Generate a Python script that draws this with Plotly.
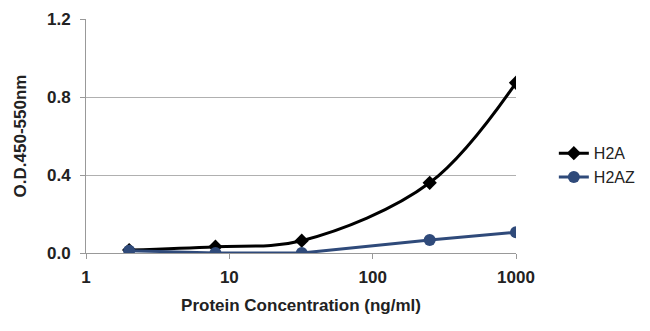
import plotly.graph_objects as go

conc = [2, 8, 32, 250, 1000]
h2a = [0.015, 0.032, 0.063, 0.36, 0.873]
h2az = [0.012, 0.0, 0.0, 0.067, 0.106]

fig = go.Figure()
fig.add_trace(go.Scatter(
    x=conc, y=h2a, name="H2A", mode="lines+markers",
    line=dict(color="black", width=3, shape="spline", smoothing=1.0),
    marker=dict(symbol="diamond", size=11, color="black"),
))
fig.add_trace(go.Scatter(
    x=conc, y=h2az, name="H2AZ", mode="lines+markers",
    line=dict(color="#2F4A7A", width=3),
    marker=dict(symbol="circle", size=12, color="#2F4A7A"),
))

font_family = "Liberation Sans, Arial, sans-serif"
fig.update_layout(
    width=650, height=331,
    margin=dict(l=86, r=134, t=19, b=78, autoexpand=False),
    paper_bgcolor="white", plot_bgcolor="white",
    font=dict(family=font_family, color="#222222", size=16),
    showlegend=True,
    legend=dict(x=1.088, y=0.375, xanchor="left", yanchor="middle",
                font=dict(size=16, color="#222222"), itemwidth=30,
                tracegroupgap=0, bgcolor="rgba(0,0,0,0)"),
    xaxis=dict(
        type="log", range=[0, 3],
        tickvals=[1, 10, 100, 1000], ticktext=["1", "10", "100", "1000"],
        showgrid=False, showline=True, linecolor="#999999", linewidth=1,
        ticks="outside", ticklen=5, tickcolor="#999999",
        ticklabelstandoff=4,
        tickfont=dict(size=17, weight="bold", color="#222222"),
        title=dict(text="Protein Concentration (ng/ml)", standoff=12,
                   font=dict(size=17, weight="bold", color="#222222")),
        zeroline=False,
    ),
    yaxis=dict(
        range=[0, 1.2], tickvals=[0, 0.4, 0.8, 1.2],
        ticktext=["0.0", "0.4", "0.8", "1.2"],
        showgrid=True, gridcolor="#b0b0b0", gridwidth=1,
        showline=True, linecolor="#999999", linewidth=1,
        ticks="outside", ticklen=5, tickcolor="#999999",
        ticklabelstandoff=6,
        tickfont=dict(size=17, weight="bold", color="#222222"),
        title=dict(text="O.D.450-550nm", standoff=16,
                   font=dict(size=17, weight="bold", color="#222222")),
        zeroline=False,
    ),
)

fig.write_html("out.html")
